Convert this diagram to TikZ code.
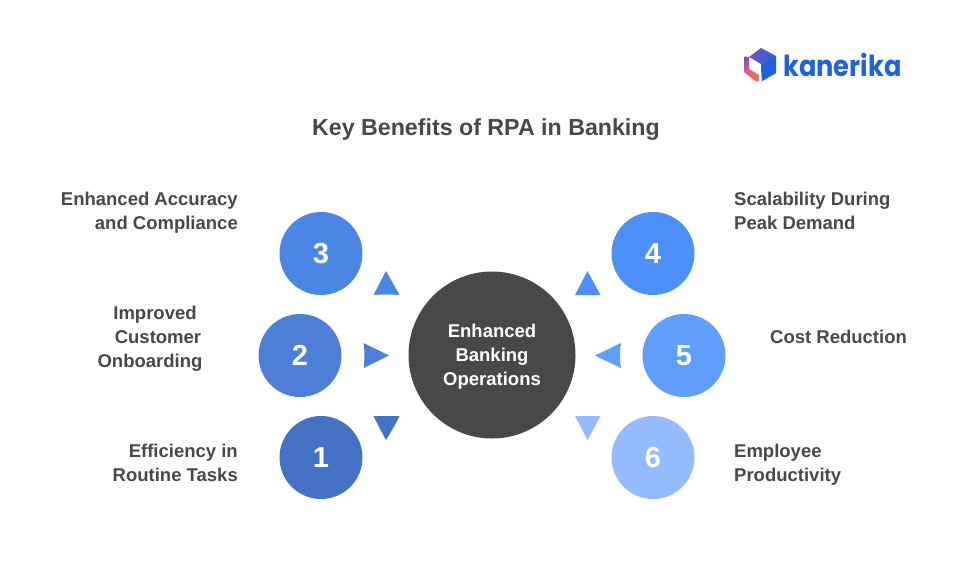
\documentclass[tikz,border=0pt]{standalone}
\usepackage{fontspec}
\usepackage{graphicx}
\setmainfont{Liberation Sans}
\newfontfamily\logofont{Poppins}
\definecolor{ink}{HTML}{484848}
\definecolor{cone}{HTML}{4472C4}
\definecolor{ctwo}{HTML}{4D7FD8}
\definecolor{cthree}{HTML}{4C86E4}
\definecolor{cfour}{HTML}{4D8FF8}
\definecolor{cfive}{HTML}{5F9EFF}
\definecolor{csix}{HTML}{94BBFF}
\definecolor{logoblue}{HTML}{1E63DC}
\definecolor{logopurple}{HTML}{7B4FC0}
\definecolor{logoorange}{HTML}{F07A45}
\definecolor{logopink}{HTML}{D9558F}
\tikzset{
 x=1pt,y=-1pt,
 badge/.style={circle,minimum size=83pt,inner sep=0pt,text=white,font=\fontsize{29}{29}\selectfont\bfseries},
 hub/.style={circle,fill=ink,minimum size=167pt,inner sep=0pt,text=white,align=center,font=\fontsize{18.5}{24}\selectfont\bfseries},
 lab/.style={text=ink,inner sep=0pt,font=\fontsize{18.5}{24}\selectfont\bfseries},
 labl/.style={lab,align=right,anchor=east},
 labr/.style={lab,align=left,anchor=west},
 labc/.style={lab,align=center},
 ttl/.style={text=ink,inner sep=0pt,font=\fontsize{23.2}{28}\selectfont\bfseries},
 logot/.style={text=logoblue,inner sep=0pt,font=\logofont\fontsize{29}{29}\selectfont\bfseries}
}
\begin{document}
\begin{tikzpicture}
\useasboundingbox (0,0) rectangle (960,574);
\fill[white] (0,0) rectangle (960,574);
\node[ttl] (title) at (486,129.5) {Key Benefits of RPA in Banking};
\node[hub] (hub) at (492,355) {\rule{0pt}{17.5pt}Enhanced\\Banking\\Operations};
\node[badge,fill=cone] (n1) at (321,457.5) {1};
\node[badge,fill=ctwo] (n2) at (300,355.5) {2};
\node[badge,fill=cthree] (n3) at (321,253.5) {3};
\node[badge,fill=cfour] (n4) at (653,253.5) {4};
\node[badge,fill=cfive] (n5) at (684,355.5) {5};
\node[badge,fill=csix] (n6) at (653,457.5) {6};
\node[labl] (t3) at (238,213) {Enhanced Accuracy\\and Compliance};
\node[labc] (t2) at (150,339) {\hspace*{10pt}Improved\\\hspace*{16pt}Customer\\Onboarding};
\node[labl] (t1) at (238,463) {Efficiency in\\Routine Tasks};
\node[labr] (t4) at (734,211) {Scalability During\\Peak Demand};
\node[labr] (t5) at (770,337) {Cost Reduction};
\node[labr] (t6) at (734,465) {Employee\\Productivity};
% triangles
\fill[cthree] (386,271) -- (399.5,295) .. controls (391,294.4) and (382,294.4) .. (373.5,295) -- cycle;
\fill[ctwo] (389,355.5) -- (363.5,368) .. controls (364.8,360) and (364.8,351) .. (363.5,343) -- cycle;
\fill[cone] (386,440) .. controls (381,431) and (377,423) .. (373.5,416) -- (399.5,416) .. controls (395,425) and (391,432) .. (386,440) -- cycle;
\fill[cfour] (587.5,271) -- (600.5,295) -- (575,295) -- cycle;
\fill[cfive] (595,355.5) -- (621,343) .. controls (619.7,351) and (619.7,360) .. (621,368) -- cycle;
\fill[csix] (587.5,440) -- (575,416) -- (600.5,416) -- cycle;
% logo
\shade[left color=logopurple,right color=logoblue] (749,57) -- (761,48) -- (776,56) -- (776,73) -- (762,81) -- (761,64) -- cycle;
\fill[logoblue] (763,64) -- (776,56.5) -- (776,73) -- (762,81) -- (761,66) -- cycle;
\shade[top color=logopurple,bottom color=logopink] (744,56.5) -- (749,57) -- (749,70) -- (744,72) -- cycle;
\shade[left color=logopink,right color=logoorange] (744,72) -- (749,69) -- (759,75) -- (759,81) -- (756,81.5) -- cycle;
\node[logot,anchor=base west] (brand) at (783,76) {\scalebox{0.885}[1]{kanerika}};
\end{tikzpicture}
\end{document}
